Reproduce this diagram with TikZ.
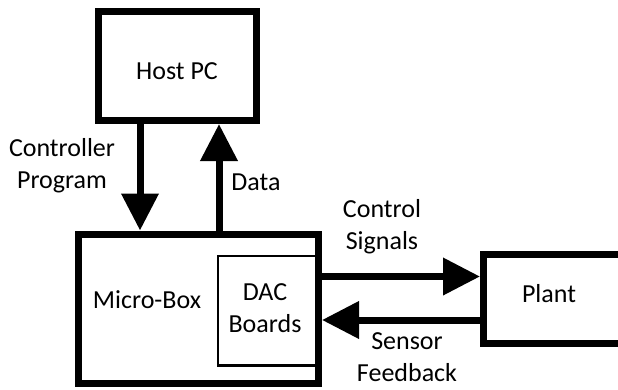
\documentclass[tikz,border=0pt]{standalone}
\usepackage{fontspec}
\setmainfont{Carlito}
\usetikzlibrary{arrows.meta}
\begin{document}
\begin{tikzpicture}[x=1pt,y=-1pt,
  box/.style={draw=black, line width=7pt, inner sep=0pt},
  thinbox/.style={draw=black, line width=2.5pt, inner sep=0pt},
  lbl/.style={font=\fontsize{26}{32}\selectfont, align=center, inner sep=0pt},
  bigarrow/.style={line width=7pt, -{Triangle[length=37pt,width=36pt]}}
]
\useasboundingbox (0,0) rectangle (618,389);
\fill[white] (0,0) rectangle (618,389);
\clip (0,0) rectangle (618,389);

\node[box, minimum width=157.5pt, minimum height=109.5pt] (host) at (177.25,65.75) {};
\node[thinbox, minimum width=100pt, minimum height=109.5pt] (dac) at (268,310.75) {};
\node[box, minimum width=240pt, minimum height=149.5pt] (micro) at (198.5,308.75) {};
\node[box, minimum width=140pt, minimum height=88.5pt] (plant) at (553.5,298.75) {};

\node[lbl] (hosttxt) at (177,71) {Host PC};
\node[lbl] (microtxt) at (147,300) {Micro-Box};
\node[lbl] (dactxt) at (265,308) {DAC\\Boards};
\node[lbl] (planttxt) at (549,294) {Plant};
\node[lbl] (cptxt) at (62,166) {Controller\\Program};
\node[lbl] (datatxt) at (256,182) {Data};
\node[lbl] (cstxt) at (382,227) {Control\\Signals};
\node[lbl] (sftxt) at (407,357) {Sensor\\Feedback};

\coordinate (xdown) at (140,0);
\coordinate (xup) at (219,0);
\coordinate (yctrl) at (0,276.5);
\coordinate (yfb) at (0,320);

\draw[bigarrow] (host.south -| xdown) -- (micro.north -| xdown);
\draw[bigarrow] (micro.north -| xup) -- (host.south -| xup);
\draw[bigarrow] (micro.east |- yctrl) -- (plant.west |- yctrl);
\draw[bigarrow] (plant.west |- yfb) -- (micro.east |- yfb);
\end{tikzpicture}
\end{document}
